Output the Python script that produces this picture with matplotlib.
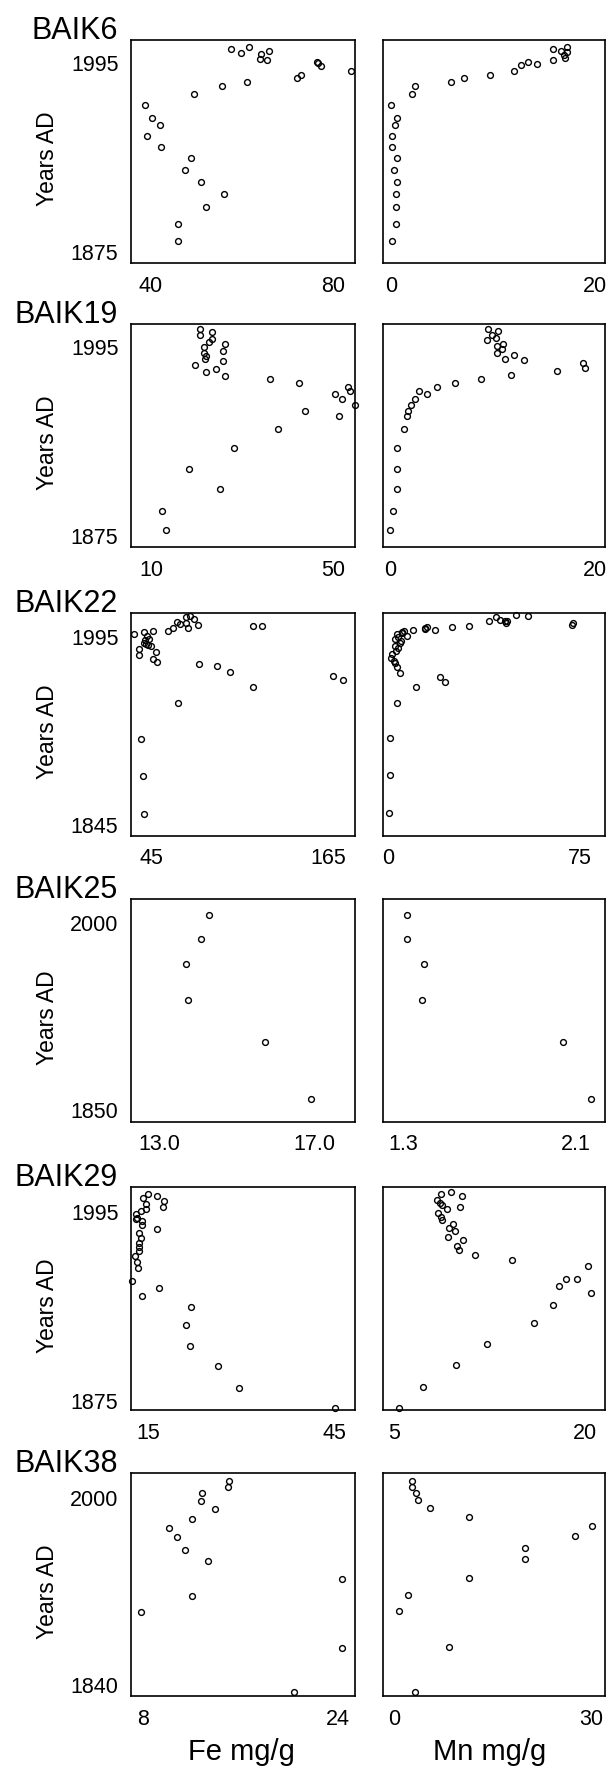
import matplotlib.pyplot as plt

plt.rcParams['font.family'] = ['Liberation Sans', 'DejaVu Sans']

cores = ["BAIK6", "BAIK19", "BAIK22", "BAIK25", "BAIK29", "BAIK38"]

# BAIK6
b6_fe = [57.7, 59.7, 61.5, 64.3, 64.0, 65.5, 65.9, 76.6, 76.8, 77.5, 84.0, 72.1, 73.1, 61.1,
         55.7, 49.5, 38.7, 40.3, 42.0, 39.2, 42.2, 48.7, 47.4, 51.1, 56.0, 52.1, 46.0, 46.0]
b6_fe_yr = [2003.7, 2001.3, 2004.7, 2000.6, 1997.5, 1996.5, 2002.4, 1995.2, 1994.6, 1993.1,
            1989.7, 1985.0, 1987.4, 1982.5, 1980.0, 1975.3, 1968.3, 1960.1, 1955.4, 1948.4,
            1941.5, 1934.3, 1927.1, 1919.1, 1911.9, 1903.4, 1892.8, 1882.0]
b6_mn = [15.91, 16.67, 17.27, 17.20, 16.97, 17.05, 15.91, 14.32, 13.37, 12.73, 12.05, 9.73,
         7.16, 5.83, 2.31, 2.01, 0.0, 0.57, 0.34, 0.08, 0.08, 0.57, 0.27, 0.57, 0.45, 0.45,
         0.45, 0.04]
b6_mn_yr = [2003.9, 2002.6, 2004.9, 2001.5, 2000.2, 1997.7, 1996.9, 1994.4, 1995.6, 1993.3,
            1989.9, 1987.4, 1985.0, 1982.5, 1980.0, 1975.3, 1968.3, 1960.1, 1955.4, 1948.4,
            1941.5, 1934.3, 1927.1, 1919.1, 1911.9, 1903.4, 1892.8, 1882.0]

# BAIK19
b19_fe = [20.8, 20.7, 23.4, 23.4, 22.8, 26.2, 21.7, 25.9, 21.6, 22.2, 21.8, 25.9, 19.7, 22.1,
          24.2, 26.3, 36.1, 42.6, 50.6, 53.4, 53.7, 52.0, 54.85, 51.4, 43.9, 37.9, 28.2, 18.3,
          25.1, 12.5, 13.3]
b19_fe_yr = [2006.4, 2002.6, 2004.7, 2000.1, 1998.5, 1996.9, 1995.4, 1992.8, 1991.2, 1989.7,
             1987.4, 1986.1, 1983.8, 1979.3, 1981.3, 1976.9, 1974.6, 1972.3, 1965.5, 1970.0,
             1967.4, 1961.9, 1958.1, 1951.4, 1954.6, 1942.9, 1931.1, 1917.8, 1905.1, 1890.7,
             1878.9]
b19_mn = [9.55, 9.92, 10.53, 9.44, 10.34, 10.98, 10.49, 10.94, 10.45, 11.24, 12.11, 13.05,
          11.77, 8.91, 6.35, 4.62, 3.57, 2.82, 2.44, 2.03, 1.80, 1.65, 1.35, 0.71, 0.64, 0.71,
          0.26, 0.04, 16.32, 18.80, 19.06]
b19_mn_yr = [2006.8, 2003.1, 2005.3, 1999.6, 2000.7, 1997.4, 1996.1, 1993.6, 1991.2, 1987.8,
             1990.3, 1986.7, 1977.2, 1974.7, 1972.4, 1969.9, 1965.2, 1967.5, 1961.8, 1958.2,
             1954.4, 1951.0, 1942.8, 1931.0, 1917.9, 1905.0, 1890.9, 1879.0, 1980.2, 1984.8,
             1982.1]

# BAIK22
b22_fe = [33.2, 40.3, 46.6, 42.4, 41.1, 40.3, 43.2, 44.7, 36.6, 36.6, 48.4, 46.0, 48.7, 56.5,
          59.7, 62.8, 64.9, 68.6, 71.2, 73.8, 70.2, 68.6, 77.0, 114.2, 120.5, 77.5, 89.5, 98.2,
          114.4, 168.4, 175.5, 63.6, 38.2, 39.2, 40.0, 43.5, 41.8]
b22_fe_yr = [1997.1, 1998.4, 1999.5, 1995.8, 1992.3, 1990.0, 1988.6, 1987.8, 1985.2, 1980.7,
             1983.1, 1977.3, 1974.6, 1999.7, 2001.6, 2006.6, 2005.1, 2010.9, 2011.5, 2008.8,
             2001.7, 2005.6, 2004.6, 2003.3, 2003.3, 1973.5, 1971.4, 1966.6, 1955.2, 1963.4,
             1960.2, 1942.0, 1913.8, 1884.4, 1853.6, 1993.5, 1989.0]
b22_mn = [0.15, 0.76, 0.6, 3.48, 10.74, 20.11, 22.23, 4.54, 3.18, 2.72, 2.27, 1.06, 1.51, 2.87,
          3.63, 2.72, 4.39, 2.57, 3.93, 3.18, 5.44, 6.05, 7.11, 9.68, 14.21, 15.27, 18.30,
          24.80, 31.60, 39.62, 42.19, 43.85, 45.67, 45.97, 46.42, 50.05, 54.59, 72.13, 72.58,
          4.84, 5.44, 14.37]
b22_mn_yr = [1854.3, 1885.1, 1914.3, 1942.2, 1954.7, 1962.6, 1959.2, 1966.1, 1970.6, 1973.8,
             1975.6, 1977.7, 1981.2, 1983.3, 1985.7, 1987.8, 1989.7, 1992.9, 1994.5, 1996.9,
             1997.7, 1999.2, 1995.5, 2000.0, 2000.8, 2002.4, 2000.3, 2002.4, 2003.8, 2007.7,
             2010.4, 2008.3, 2007.2, 2006.1, 2007.7, 2012.3, 2011.5, 2004.6, 2005.9, 1991.5,
             1999.0, 2001.6]

# BAIK25
b25_fe = [14.30, 14.09, 13.70, 13.74, 15.74, 16.92]
b25_fe_yr = [2006.0, 1987.0, 1967.0, 1938.0, 1905.0, 1859.0]
b25_mn = [1.316, 1.316, 1.395, 1.384, 2.043, 2.172]
b25_mn_yr = [2006.0, 1987.0, 1967.0, 1938.0, 1905.0, 1859.0]

# BAIK29
b29_fe = [15.06, 14.25, 16.5, 17.6, 17.4, 14.75, 14.6, 13.9, 13.1, 13.3, 13.1, 14.0, 14.1,
          16.4, 13.5, 13.9, 13.6, 13.5, 13.6, 12.9, 13.3, 13.4, 12.45, 16.8, 14.1, 22.0, 21.1,
          21.7, 26.3, 29.7, 45.1]
b29_fe_yr = [2006.7, 2004.1, 2005.4, 2002.0, 1998.2, 1999.9, 1996.9, 1995.6, 1993.9, 1991.4,
             1990.3, 1989.0, 1986.5, 1984.1, 1981.8, 1978.4, 1975.6, 1972.7, 1970.3, 1966.9,
             1963.1, 1959.5, 1951.2, 1946.5, 1941.8, 1934.8, 1923.1, 1910.1, 1897.1, 1883.1,
             1870.3]
b29_mn = [8.64, 9.42, 10.33, 8.36, 8.58, 8.70, 9.15, 10.12, 8.45, 8.64, 8.76, 9.58, 9.27,
          9.73, 9.21, 10.36, 9.88, 10.06, 11.30, 14.24, 20.21, 19.33, 18.45, 17.94, 20.45,
          17.48, 15.97, 12.27, 9.82, 7.27, 5.36]
b29_mn_yr = [2006.3, 2007.6, 2005.2, 2002.7, 2000.5, 1999.5, 1996.9, 1998.2, 1994.6, 1992.0,
             1989.7, 1987.3, 1985.0, 1982.7, 1979.3, 1976.9, 1973.5, 1971.0, 1967.6, 1964.2,
             1960.7, 1952.7, 1952.7, 1948.0, 1943.3, 1936.1, 1924.4, 1911.2, 1897.8, 1883.5,
             1870.5]

# BAIK38
b38_fe = [15.09, 14.93, 12.83, 12.71, 13.88, 12.01, 10.10, 10.74, 11.40, 13.31, 24.38, 12.04,
          7.78, 24.38, 20.40]
b38_fe_yr = [2014.6, 2009.4, 2004.3, 1998.0, 1991.1, 1982.6, 1974.6, 1966.6, 1955.7, 1946.3,
             1931.1, 1916.3, 1902.0, 1871.7, 1833.7]
b38_mn = [2.71, 2.59, 3.29, 3.53, 5.47, 11.41, 30.06, 27.59, 19.94, 19.88, 11.29, 2.12, 0.65,
          8.35, 3.06]
b38_mn_yr = [2014.6, 2009.4, 2004.9, 1998.9, 1991.7, 1983.7, 1976.3, 1968.0, 1956.9, 1947.7,
             1931.4, 1917.1, 1902.9, 1872.0, 1833.7]

fe_data = [(b6_fe, b6_fe_yr), (b19_fe, b19_fe_yr), (b22_fe, b22_fe_yr),
           (b25_fe, b25_fe_yr), (b29_fe, b29_fe_yr), (b38_fe, b38_fe_yr)]
mn_data = [(b6_mn, b6_mn_yr), (b19_mn, b19_mn_yr), (b22_mn, b22_mn_yr),
           (b25_mn, b25_mn_yr), (b29_mn, b29_mn_yr), (b38_mn, b38_mn_yr)]

fe_ticks = [[40, 80], [10, 50], [45, 165], [13.0, 17.0], [15, 45], [8, 24]]
fe_ticklabels = [["40", "80"], ["10", "50"], ["45", "165"], ["13.0", "17.0"], ["15", "45"], ["8", "24"]]
mn_ticks = [[0, 20], [0, 20], [0, 75], [1.3, 2.1], [5, 20], [0, 30]]
mn_ticklabels = [["0", "20"], ["0", "20"], ["0", "75"], ["1.3", "2.1"], ["5", "20"], ["0", "30"]]
yr_ticks = [[1875, 1995], [1875, 1995], [1845, 1995], [1850, 2000], [1875, 1995], [1840, 2000]]

# axis ranges
fe_lim = [(35.6, 84.9), (5.6, 54.9), (31.4, 183.3), (12.28, 18.06), (12.26, 48.35), (6.98, 25.43)]
mn_lim = [(-0.83, 20.98), (-0.68, 20.98), (-2.12, 84.98), (1.205, 2.236), (4.09, 21.55), (-1.76, 32.1)]
yr_lim = [(1868.0, 2009.4), (1868.0, 2009.8), (1836.5, 2014.1), (1840.6, 2019.0), (1869.0, 2010.7), (1830.0, 2021.4)]

W, H = 606, 1770
fig = plt.figure(figsize=(W / 100, H / 100), dpi=100)

row_top = [40, 324, 612.7, 899, 1187.3, 1473.3]
row_h = 223
cols = [(131, 224), (383, 222)]


def style(ax, xt, xl, xlim, ylim):
    ax.set_xlim(*xlim)
    ax.set_ylim(*ylim)
    ax.set_xticks(xt)
    ax.set_xticklabels(xl)
    ax.tick_params(length=0, labelsize=15.5, pad=9)
    for s in ax.spines.values():
        s.set_linewidth(1.2)


for i, core in enumerate(cores):
    top = row_top[i]
    for j, (data, ticks, tl, lim) in enumerate([
            (fe_data[i], fe_ticks[i], fe_ticklabels[i], fe_lim[i]),
            (mn_data[i], mn_ticks[i], mn_ticklabels[i], mn_lim[i])]):
        left, w = cols[j]
        ax = fig.add_axes([left / W, 1 - (top + row_h) / H, w / W, row_h / H])
        ax.plot(data[0], data[1], 'o', ms=4.2, mfc='none', mec='black', mew=1.0, clip_on=False)
        style(ax, ticks, tl, lim, yr_lim[i])
        if j == 0:
            ax.set_yticks(yr_ticks[i])
            ax.set_yticklabels([str(t) for t in yr_ticks[i]])
        else:
            ax.set_yticks([])
    fig.text(118 / W, 1 - (top - 1) / H, core, ha='right', va='baseline', fontsize=22)
    fig.text(48 / W, 1 - (top + row_h / 2 + 7) / H, "Years AD", rotation=90,
             ha='center', va='center', fontsize=16.5)

fig.text(241 / W, 1 - 1752 / H, "Fe mg/g", ha='center', va='center', fontsize=21)
fig.text(490 / W, 1 - 1752 / H, "Mn mg/g", ha='center', va='center', fontsize=21)

fig.savefig("out.png", dpi=100)
